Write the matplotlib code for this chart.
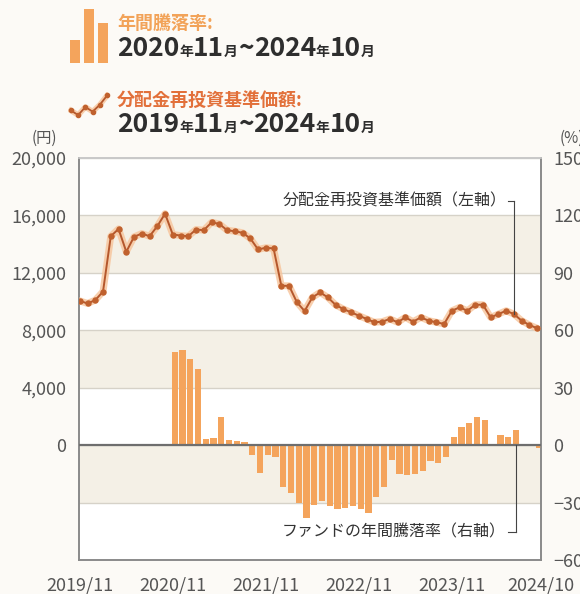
import matplotlib
matplotlib.use("Agg")
import matplotlib.pyplot as plt
import numpy as np

plt.rcParams['font.family'] = ['Noto Sans CJK JP', 'DejaVu Sans']

# === Datos (lectura aproximada del gráfico) ===
# 分配金再投資基準価額 (円), mensual 2019/11 - 2024/10
nav = [10050, 9870, 10100, 10700, 14550, 15060, 13470, 14510, 14740, 14550,
       15250, 16120, 14670, 14600, 14550, 15020, 14970, 15520, 15410, 14970,
       14900, 14790, 14400, 13630, 13750, 13700, 11100, 11100, 9960, 9340,
       10290, 10640, 10290, 9770, 9480, 9250, 9020, 8790, 8560, 8600,
       8790, 8560, 8900, 8600, 8900, 8670, 8560, 8440, 9360, 9600,
       9360, 9780, 9780, 8900, 9130, 9360, 9130, 8670, 8370, 8140]

# 年間騰落率 (%), mensual 2020/11 - 2024/10
ret = [48.6, 49.5, 45.0, 40.0, 3.0, 4.0, 14.9, 2.5, 2.0, 1.5,
       -5.0, -14.5, -5.0, -6.0, -22.0, -25.0, -30.0, -38.0, -31.0, -29.2,
       -31.8, -33.6, -32.7, -31.8, -33.6, -35.3, -27.0, -22.0, -8.0, -15.0,
       -15.5, -15.0, -13.5, -8.5, -9.3, -6.0, 4.5, 9.7, 11.4, 14.9,
       13.2, 0.3, 5.3, 4.5, 8.0, 0.3, 0.2, -1.5]

x_labels = ["2019/11", "2020/11", "2021/11", "2022/11", "2023/11", "2024/10"]
left_ticks = [0, 4000, 8000, 12000, 16000, 20000]
right_ticks = [-60, -30, 0, 30, 60, 90, 120, 150]

# iconos de la leyenda
icon_bars = [0.42, 1.0, 0.75]
icon_line = [0.35, 0.15, 0.5, 0.3, 0.6, 1.0]

ORANGE = "#f4a45c"
LINE = "#b4572c"
BEIGE = "#f4f0e6"
GRID = "#d6d2c8"
TXT = "#555555"

months = np.arange(len(nav))
bar_months = np.arange(len(nav) - len(ret), len(nav))

fig = plt.figure(figsize=(5.8, 5.94), dpi=100)
fig.patch.set_facecolor("#fcfaf6")

ax = fig.add_axes([0.1362, 0.0572, 0.7966, 0.6768])
ax.set_facecolor("white")
ax.set_xlim(-0.1, 59.5)
ax.set_ylim(-8000, 20000)

# bandas alternas
for lo in [12000, 4000, -4000]:
    ax.axhspan(lo, lo + 4000, color=BEIGE, zorder=0, lw=0)
for yv in range(-4000, 20001, 4000):
    ax.axhline(yv, color=GRID, lw=1.0, zorder=1)

ax2 = ax.twinx()
ax2.set_ylim(-60, 150)
ax2.bar(bar_months + 0.25, ret, width=0.82, color=ORANGE, lw=0, zorder=2)
ax2.axhline(0, color="#6e6e6e", lw=1.6, zorder=3)

# línea del valor
ax3 = ax.twinx()
ax3.set_ylim(ax.get_ylim())
ax3.axis("off")
ax3.plot(months, nav, color="#f7c49a", lw=5, alpha=0.8, solid_capstyle="round", zorder=4)
ax3.plot(months, nav, color=LINE, lw=1.4, marker="o", ms=3.6,
         mfc="#c0612e", mec="#c0612e", zorder=5)

# ejes
ax.set_yticks(left_ticks)
ax.set_yticklabels([f"{v:,}" for v in left_ticks])
ax.tick_params(axis="y", length=0, pad=9, labelsize=13, labelcolor=TXT)
ax2.set_yticks(right_ticks)
ax2.set_yticklabels([f"{v}".replace("-", "−") for v in right_ticks])
ax2.tick_params(axis="y", length=0, pad=9, labelsize=13, labelcolor=TXT)

ax.set_xticks([0, 12, 24, 36, 48, 59.5])
ax.set_xticklabels(x_labels)
ax.set_xticks([12, 24, 36, 48], minor=True)
ax.tick_params(axis="x", which="major", length=0, pad=12, labelsize=13, labelcolor=TXT)
ax.tick_params(axis="x", which="minor", direction="in", length=5, width=1, color="#888888")

for a in (ax, ax2):
    for s in a.spines.values():
        s.set_color("#8a8a8a")
        s.set_linewidth(1.2)
ax.spines["top"].set_color("#c8c8c8")
ax2.spines["top"].set_color("#c8c8c8")

# anotaciones
k_top = 56
ax3.text(55.0, 17000, "分配金再投資基準価額（左軸）", ha="right", va="center",
         fontsize=11.5, color="#333333", zorder=6)
ax3.plot([55.2, k_top], [17000, 17000], color="#444444", lw=0.8, zorder=6)
ax3.plot([k_top, k_top], [17000, nav[k_top]], color="#444444", lw=0.8, zorder=6)

k_bot = 56.3
ax2.text(55.0, -45.5, "ファンドの年間騰落率（右軸）", ha="right", va="center",
         fontsize=11.5, color="#333333", zorder=6)
ax2.plot([55.2, k_bot], [-45.5, -45.5], color="#444444", lw=0.8, zorder=6)
ax2.plot([k_bot, k_bot], [-45.5, 0], color="#444444", lw=0.8, zorder=6)

# unidades
fig.text(44 / 580, 1 - 138 / 594, "(円)", ha="center", va="center", fontsize=11, color=TXT)
fig.text(572 / 580, 1 - 138 / 594, "(%)", ha="center", va="center", fontsize=11, color=TXT)

# leyenda superior
r = fig.canvas.get_renderer()


def put_pieces(x, y, pieces):
    for s, size, color, weight in pieces:
        t = fig.text(x, y, s, fontsize=size, color=color, fontweight=weight, va="baseline")
        bb = t.get_window_extent(r)
        x = fig.transFigure.inverted().transform((bb.x1, 0))[0]


DARK = "#2e2e2e"
x0 = 117 / 580
put_pieces(x0, 1 - 29 / 594, [("年間騰落率:", 13, "#f2a359", "bold")])
put_pieces(x0, 1 - 56 / 594, [("2020", 19, DARK, "bold"), ("年", 10, DARK, "bold"),
                              ("11", 19, DARK, "bold"), ("月", 10, DARK, "bold"),
                              ("~", 19, DARK, "bold"),
                              ("2024", 19, DARK, "bold"), ("年", 10, DARK, "bold"),
                              ("10", 19, DARK, "bold"), ("月", 10, DARK, "bold")])
put_pieces(x0, 1 - 106 / 594, [("分配金再投資基準価額:", 13, "#e2703a", "bold")])
put_pieces(x0, 1 - 132 / 594, [("2019", 19, DARK, "bold"), ("年", 10, DARK, "bold"),
                               ("11", 19, DARK, "bold"), ("月", 10, DARK, "bold"),
                               ("~", 19, DARK, "bold"),
                               ("2024", 19, DARK, "bold"), ("年", 10, DARK, "bold"),
                               ("10", 19, DARK, "bold"), ("月", 10, DARK, "bold")])

ic1 = fig.add_axes([68 / 580, 1 - 63 / 594, 42 / 580, 55 / 594])
ic1.bar(range(len(icon_bars)), icon_bars, width=0.75, color=ORANGE)
ic1.set_xlim(-0.5, len(icon_bars) - 0.5)
ic1.set_ylim(0, 1.02)
ic1.axis("off")

ic2 = fig.add_axes([68 / 580, 1 - 122 / 594, 42 / 580, 30 / 594])
ic2.plot(range(len(icon_line)), icon_line, color="#f7c49a", lw=4, alpha=0.8)
ic2.plot(range(len(icon_line)), icon_line, color=LINE, lw=1.3, marker="o", ms=3,
         mfc="#c0612e", mec="#c0612e")
ic2.set_xlim(-0.4, len(icon_line) - 0.6)
ic2.set_ylim(-0.15, 1.15)
ic2.axis("off")

fig.savefig("out.png", dpi=100, facecolor=fig.get_facecolor())
